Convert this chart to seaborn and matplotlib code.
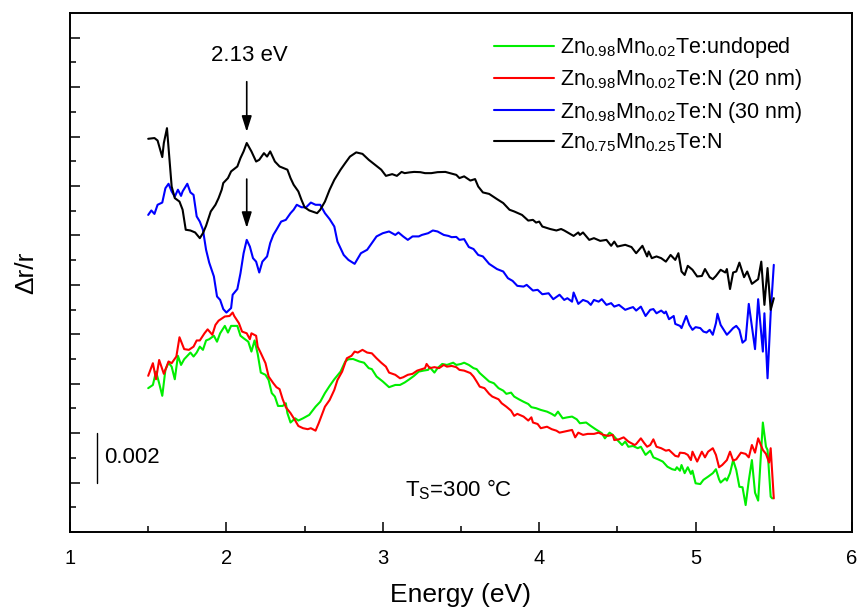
import matplotlib
matplotlib.use("Agg")
import matplotlib.pyplot as plt
import seaborn as sns
import pandas as pd

# ---- data (dr/r in units of 1e-3, arbitrary offsets) ----
labels = [
    r"Zn$_{\mathrm{0.98}}$Mn$_{\mathrm{0.02}}$Te:undoped",
    r"Zn$_{\mathrm{0.98}}$Mn$_{\mathrm{0.02}}$Te:N (20 nm)",
    r"Zn$_{\mathrm{0.98}}$Mn$_{\mathrm{0.02}}$Te:N (30 nm)",
    r"Zn$_{\mathrm{0.75}}$Mn$_{\mathrm{0.25}}$Te:N",
]
colors = ["#00ee00", "#ff0000", "#0000ff", "#000000"]

e_green = [1.50, 1.53, 1.55, 1.57, 1.59, 1.61, 1.63, 1.65, 1.67, 1.69,
           1.71, 1.73, 1.77, 1.79, 1.81, 1.83, 1.85, 1.87, 1.89, 1.92,
           1.94, 1.96, 1.99, 2.01, 2.03, 2.07, 2.09, 2.11, 2.14, 2.16,
           2.18, 2.20, 2.22, 2.25, 2.27, 2.29, 2.31, 2.33, 2.36, 2.38,
           2.39, 2.41, 2.44, 2.46, 2.49, 2.53, 2.57, 2.60, 2.63, 2.66,
           2.69, 2.73, 2.76, 2.78, 2.81, 2.85, 2.88, 2.91, 2.93, 2.96,
           3.00, 3.04, 3.08, 3.11, 3.14, 3.17, 3.20, 3.23, 3.26, 3.29,
           3.30, 3.33, 3.35, 3.38, 3.41, 3.45, 3.47, 3.50, 3.52, 3.55,
           3.58, 3.60, 3.62, 3.65, 3.68, 3.71, 3.74, 3.77, 3.79, 3.82,
           3.84, 3.87, 3.90, 3.93, 3.95, 3.98, 4.01, 4.05, 4.08, 4.10,
           4.12, 4.15, 4.18, 4.21, 4.24, 4.26, 4.30, 4.33, 4.36, 4.40,
           4.42, 4.45, 4.47, 4.50, 4.53, 4.55, 4.57, 4.60, 4.63, 4.65,
           4.68, 4.71, 4.73, 4.76, 4.79, 4.82, 4.85, 4.87, 4.88, 4.90,
           4.91, 4.93, 4.95, 4.97, 4.98, 5.00, 5.03, 5.05, 5.08, 5.11,
           5.13, 5.15, 5.16, 5.19, 5.20, 5.22, 5.24, 5.26, 5.28, 5.30,
           5.32, 5.34, 5.36, 5.38, 5.40, 5.43, 5.45, 5.46, 5.48, 5.49]
y_green = [5.82, 5.95, 6.49, 6.02, 5.51, 6.56, 6.85, 6.69, 6.18, 7.13,
           6.76, 6.99, 7.26, 7.10, 7.26, 7.50, 7.37, 7.75, 7.80, 7.94,
           7.70, 8.04, 8.34, 8.07, 8.34, 8.34, 7.94, 7.84, 7.70, 7.30,
           7.75, 7.21, 6.45, 6.36, 6.15, 5.62, 5.48, 5.10, 5.10, 5.21,
           4.81, 4.43, 4.60, 4.51, 4.60, 4.74, 5.07, 5.27, 5.62, 5.91,
           6.18, 6.49, 6.90, 6.99, 7.00, 6.90, 6.85, 6.63, 6.59, 6.29,
           6.09, 5.86, 5.95, 5.95, 6.05, 6.18, 6.32, 6.49, 6.53, 6.56,
           6.67, 6.45, 6.63, 6.80, 6.76, 6.85, 6.76, 6.80, 6.85, 6.76,
           6.63, 6.59, 6.43, 6.26, 6.09, 6.02, 5.82, 5.72, 5.59, 5.64,
           5.48, 5.37, 5.27, 5.18, 5.05, 5.01, 4.94, 4.87, 4.78, 4.70,
           4.87, 4.60, 4.64, 4.67, 4.56, 4.40, 4.43, 4.29, 4.16, 4.00,
           3.79, 4.02, 3.93, 3.72, 3.52, 3.66, 3.45, 3.48, 3.39, 3.45,
           3.12, 3.29, 3.02, 2.94, 2.85, 2.64, 2.54, 2.51, 2.62, 2.48,
           2.71, 2.38, 2.62, 2.35, 2.48, 1.97, 1.94, 2.11, 2.24, 2.38,
           2.54, 2.13, 2.00, 2.17, 2.08, 2.38, 2.91, 2.51, 1.83, 1.81,
           1.09, 2.08, 2.91, 1.59, 1.27, 4.43, 3.45, 3.32, 1.43, 1.36]

e_red = [1.50, 1.53, 1.55, 1.57, 1.60, 1.63, 1.65, 1.68, 1.70, 1.73,
         1.76, 1.79, 1.81, 1.83, 1.86, 1.88, 1.91, 1.93, 1.95, 1.99,
         2.02, 2.04, 2.05, 2.08, 2.10, 2.13, 2.15, 2.16, 2.19, 2.20,
         2.22, 2.25, 2.27, 2.30, 2.32, 2.34, 2.36, 2.38, 2.41, 2.44,
         2.46, 2.49, 2.52, 2.54, 2.57, 2.59, 2.61, 2.63, 2.66, 2.69,
         2.71, 2.74, 2.77, 2.80, 2.82, 2.84, 2.87, 2.90, 2.93, 2.96,
         2.99, 3.02, 3.04, 3.08, 3.11, 3.13, 3.16, 3.19, 3.22, 3.25,
         3.27, 3.28, 3.30, 3.33, 3.36, 3.39, 3.41, 3.44, 3.47, 3.49,
         3.52, 3.56, 3.58, 3.60, 3.62, 3.65, 3.68, 3.70, 3.74, 3.76,
         3.79, 3.82, 3.84, 3.86, 3.90, 3.93, 3.95, 3.96, 3.99, 4.01,
         4.05, 4.08, 4.11, 4.13, 4.16, 4.21, 4.23, 4.25, 4.28, 4.31,
         4.35, 4.38, 4.41, 4.44, 4.47, 4.48, 4.51, 4.54, 4.57, 4.61,
         4.62, 4.65, 4.67, 4.69, 4.71, 4.73, 4.75, 4.78, 4.81, 4.83,
         4.87, 4.89, 4.90, 4.93, 4.95, 4.97, 4.98, 5.01, 5.04, 5.06,
         5.08, 5.11, 5.13, 5.15, 5.17, 5.20, 5.22, 5.24, 5.26, 5.29,
         5.32, 5.34, 5.36, 5.38, 5.40, 5.43, 5.45, 5.47, 5.48, 5.50]
y_red = [6.32, 6.83, 6.18, 6.96, 6.40, 6.90, 6.83, 7.10, 7.88, 7.40,
         7.37, 7.50, 7.75, 7.75, 8.04, 8.20, 7.98, 8.38, 8.55, 8.72,
         8.74, 8.88, 8.74, 8.45, 8.11, 8.04, 7.80, 8.04, 7.94, 7.50,
         7.24, 6.83, 6.29, 6.02, 5.86, 5.78, 5.37, 5.05, 4.81, 4.51,
         4.29, 4.20, 4.16, 4.20, 4.10, 4.40, 4.74, 5.07, 5.34, 5.75,
         6.15, 6.49, 7.03, 7.13, 7.30, 7.26, 7.37, 7.26, 7.23, 7.03,
         6.85, 6.69, 6.45, 6.36, 6.22, 6.26, 6.36, 6.40, 6.53, 6.59,
         6.63, 6.80, 6.63, 6.67, 6.63, 6.76, 6.69, 6.72, 6.67, 6.56,
         6.53, 6.43, 6.29, 6.09, 5.88, 5.82, 5.59, 5.48, 5.37, 5.21,
         5.07, 4.91, 4.70, 4.78, 4.67, 4.51, 4.64, 4.43, 4.37, 4.20,
         4.26, 4.16, 4.10, 4.02, 4.06, 4.13, 3.83, 4.02, 3.93, 3.97,
         3.97, 4.02, 3.93, 3.89, 3.93, 3.72, 3.75, 3.83, 3.66, 3.52,
         3.56, 3.79, 3.61, 3.45, 3.52, 3.75, 3.45, 3.39, 3.29, 3.32,
         3.08, 3.05, 3.21, 3.19, 3.12, 2.91, 3.25, 2.85, 3.25, 3.02,
         3.25, 3.39, 3.12, 2.62, 2.71, 2.91, 3.25, 2.89, 2.94, 3.21,
         3.16, 3.02, 3.52, 3.21, 3.79, 3.32, 3.16, 2.81, 3.39, 1.36]

e_blue = [1.50, 1.52, 1.54, 1.56, 1.59, 1.61, 1.63, 1.65, 1.67, 1.69,
          1.71, 1.72, 1.75, 1.77, 1.79, 1.81, 1.83, 1.85, 1.87, 1.89,
          1.92, 1.94, 1.96, 1.98, 2.00, 2.03, 2.04, 2.07, 2.09, 2.11,
          2.13, 2.15, 2.17, 2.19, 2.21, 2.23, 2.26, 2.28, 2.30, 2.32,
          2.35, 2.38, 2.41, 2.43, 2.45, 2.48, 2.51, 2.54, 2.57, 2.60,
          2.63, 2.66, 2.69, 2.71, 2.75, 2.78, 2.82, 2.86, 2.90, 2.93,
          2.96, 3.00, 3.04, 3.08, 3.10, 3.13, 3.16, 3.19, 3.23, 3.25,
          3.29, 3.32, 3.35, 3.39, 3.42, 3.44, 3.47, 3.49, 3.52, 3.55,
          3.58, 3.61, 3.64, 3.68, 3.73, 3.77, 3.80, 3.83, 3.86, 3.90,
          3.92, 3.96, 3.99, 4.02, 4.06, 4.09, 4.13, 4.16, 4.18, 4.21,
          4.22, 4.25, 4.28, 4.31, 4.33, 4.35, 4.38, 4.40, 4.43, 4.46,
          4.48, 4.51, 4.55, 4.58, 4.60, 4.62, 4.65, 4.68, 4.71, 4.73,
          4.75, 4.78, 4.80, 4.81, 4.83, 4.86, 4.87, 4.90, 4.91, 4.94,
          4.96, 4.98, 5.00, 5.03, 5.05, 5.07, 5.09, 5.11, 5.13, 5.14,
          5.16, 5.20, 5.22, 5.24, 5.26, 5.28, 5.30, 5.32, 5.34, 5.36,
          5.38, 5.40, 5.43, 5.44, 5.46, 5.48, 5.50]
y_blue = [12.83, 13.01, 12.87, 13.24, 13.33, 13.91, 14.09, 13.78, 13.57, 13.85,
          13.60, 13.78, 14.09, 13.74, 13.64, 12.77, 12.56, 12.23, 11.42, 10.90,
          10.34, 9.53, 9.39, 9.02, 8.88, 9.06, 9.60, 9.83, 10.47, 11.28,
          11.82, 11.55, 11.08, 10.94, 10.50, 10.94, 11.15, 11.69, 12.02, 12.23,
          12.56, 12.63, 12.90, 13.04, 13.24, 13.14, 13.14, 13.33, 13.24, 13.24,
          12.90, 12.66, 12.36, 11.75, 11.21, 11.01, 10.85, 11.28, 11.42, 11.69,
          11.96, 12.09, 12.16, 12.02, 12.12, 11.96, 11.82, 11.96, 11.96, 12.02,
          12.09, 12.20, 12.16, 12.02, 11.98, 11.93, 11.94, 11.82, 11.85, 11.53,
          11.45, 11.21, 11.15, 10.85, 10.64, 10.54, 10.27, 10.16, 9.96, 9.93,
          10.00, 9.77, 9.80, 9.62, 9.66, 9.42, 9.60, 9.39, 9.46, 9.32,
          9.69, 9.23, 9.39, 9.32, 9.19, 9.39, 9.32, 9.42, 9.19, 9.26,
          9.12, 9.19, 8.99, 9.06, 9.10, 8.96, 9.12, 8.74, 8.99, 9.02,
          8.85, 8.96, 8.85, 8.92, 8.61, 8.74, 8.42, 8.34, 8.25, 8.74,
          8.38, 8.18, 8.29, 8.25, 8.11, 8.07, 8.18, 7.98, 8.45, 8.83,
          8.38, 7.98, 8.11, 8.25, 8.34, 8.18, 7.66, 7.77, 9.23, 8.31,
          7.40, 9.42, 7.30, 8.85, 6.22, 8.85, 10.81]

e_black = [1.50, 1.54, 1.56, 1.59, 1.60, 1.62, 1.64, 1.65, 1.67, 1.70,
           1.72, 1.74, 1.77, 1.80, 1.83, 1.85, 1.87, 1.90, 1.93, 1.95,
           1.97, 1.98, 2.01, 2.03, 2.07, 2.09, 2.11, 2.13, 2.16, 2.19,
           2.21, 2.24, 2.26, 2.28, 2.31, 2.34, 2.39, 2.41, 2.43, 2.46,
           2.48, 2.50, 2.53, 2.58, 2.60, 2.63, 2.66, 2.69, 2.73, 2.76,
           2.79, 2.83, 2.87, 2.91, 2.95, 2.99, 3.02, 3.06, 3.09, 3.12,
           3.14, 3.17, 3.20, 3.24, 3.27, 3.31, 3.35, 3.40, 3.43, 3.47,
           3.49, 3.52, 3.56, 3.59, 3.61, 3.64, 3.68, 3.73, 3.77, 3.81,
           3.84, 3.89, 3.93, 3.96, 3.98, 4.00, 4.02, 4.07, 4.11, 4.14,
           4.16, 4.22, 4.25, 4.26, 4.28, 4.32, 4.35, 4.39, 4.43, 4.46,
           4.48, 4.50, 4.55, 4.59, 4.62, 4.66, 4.69, 4.70, 4.72, 4.75,
           4.78, 4.81, 4.84, 4.87, 4.89, 4.91, 4.93, 4.95, 4.98, 5.01,
           5.04, 5.06, 5.09, 5.11, 5.13, 5.16, 5.19, 5.20, 5.22, 5.24,
           5.26, 5.28, 5.31, 5.33, 5.36, 5.40, 5.42, 5.44, 5.46, 5.48,
           5.50]
y_black = [15.91, 15.94, 15.84, 15.17, 15.74, 16.34, 14.79, 13.98, 13.51, 13.37,
           13.04, 12.23, 12.20, 12.12, 11.89, 12.09, 12.39, 12.97, 13.24, 13.51,
           13.85, 14.12, 14.32, 14.59, 14.79, 15.13, 15.40, 15.74, 15.40, 14.99,
           15.06, 15.33, 15.19, 15.40, 14.99, 14.79, 14.66, 14.32, 14.05, 13.78,
           13.44, 13.14, 13.01, 12.90, 13.04, 13.37, 13.85, 14.25, 14.66, 14.93,
           15.19, 15.36, 15.30, 15.06, 14.86, 14.66, 14.41, 14.48, 14.41, 14.57,
           14.52, 14.55, 14.57, 14.56, 14.52, 14.52, 14.56, 14.57, 14.52, 14.45,
           14.32, 14.39, 14.22, 14.28, 13.98, 13.74, 13.68, 13.47, 13.31, 13.04,
           12.97, 12.83, 12.60, 12.63, 12.52, 12.56, 12.36, 12.26, 12.20, 12.26,
           12.20, 11.98, 12.12, 12.02, 12.12, 11.82, 11.89, 11.78, 11.82, 11.58,
           11.75, 11.55, 11.62, 11.53, 11.28, 11.58, 11.15, 11.35, 11.08, 11.15,
           11.08, 10.94, 11.21, 11.01, 11.28, 10.54, 10.40, 10.77, 10.61, 10.34,
           10.36, 10.64, 10.31, 10.23, 10.36, 10.61, 10.50, 10.64, 9.83, 10.50,
           10.54, 10.90, 10.31, 10.54, 10.04, 10.23, 10.94, 9.19, 10.68, 8.99,
           9.46]

peak_energy = 2.13
scale_x, scale_lo, scale_hi = 1.1725, 2.0, 4.0

# ---- long table for seaborn ----
series = [(e_green, y_green), (e_red, y_red), (e_blue, y_blue), (e_black, y_black)]
frames = []
for lab, (e, y) in zip(labels, series):
    assert len(e) == len(y), lab
    frames.append(pd.DataFrame({"Energy": e, "dr": y, "sample": lab}))
df = pd.concat(frames, ignore_index=True)

sns.set_style("ticks")
plt.rcParams["font.family"] = ["Liberation Sans", "DejaVu Sans"]
plt.rcParams["mathtext.fontset"] = "custom"
plt.rcParams["mathtext.rm"] = "Liberation Sans"
plt.rcParams["mathtext.it"] = "Liberation Sans:italic"
for key in ["text.color", "axes.labelcolor", "xtick.color", "ytick.color", "axes.edgecolor"]:
    plt.rcParams[key] = "black"

fig = plt.figure(figsize=(8.57, 6.08), dpi=100)
ax = fig.add_axes([70 / 857, 76 / 608, 782 / 857, 519 / 608])

sns.lineplot(data=df, x="Energy", y="dr", hue="sample", hue_order=labels,
             palette=colors, estimator=None, linewidth=1.5, ax=ax)

ax.set_xlim(1, 6)
ax.set_ylim(0, 21)
ax.set_xticks([1, 2, 3, 4, 5, 6])
ax.set_xticks([1.5, 2.5, 3.5, 4.5, 5.5], minor=True)
ax.set_yticks(range(0, 21, 2))
ax.set_yticks(range(1, 21, 2), minor=True)
ax.set_yticklabels([])
ax.tick_params(which="both", direction="in", top=False, right=False, width=1.1)
ax.tick_params(which="major", length=7.5)
ax.tick_params(which="minor", length=4)
ax.tick_params(axis="x", labelsize=14.5, pad=12)
for s in ax.spines.values():
    s.set_linewidth(1.4)

ax.set_xlabel("Energy (eV)", fontsize=19, labelpad=11)
ax.set_ylabel("Δr/r", fontsize=19, labelpad=19)

# arrows marking 2.13 eV
arrow = dict(arrowstyle="-|>,head_length=0.95,head_width=0.3", color="black",
             lw=1.2, mutation_scale=10, shrinkA=0, shrinkB=0)
ax.annotate("", xy=(peak_energy, 16.19), xytext=(peak_energy, 18.22), arrowprops=arrow)
ax.annotate("", xy=(peak_energy, 12.30), xytext=(peak_energy, 14.28), arrowprops=arrow)
ax.text(2.15, 19.3, "2.13 eV", fontsize=16, ha="center", va="center")

# scale bar
ax.plot([scale_x, scale_x], [scale_lo, scale_hi], color="black", lw=1)
ax.text(1.217, (scale_lo + scale_hi) / 2, "0.002", fontsize=16, va="center", ha="left")

ax.text(3.14, 1.7, r"T$_{\mathrm{S}}$=300 °C", fontsize=16, va="center", ha="left")

leg = ax.legend(loc="upper left", bbox_to_anchor=(0.542, 0.957), frameon=False,
                fontsize=15.5, handlelength=2.8, handletextpad=0.25,
                labelspacing=0.33, borderpad=0, borderaxespad=0)
for h in leg.get_lines():
    h.set_linewidth(1.5)

fig.savefig("out.png", dpi=100)
